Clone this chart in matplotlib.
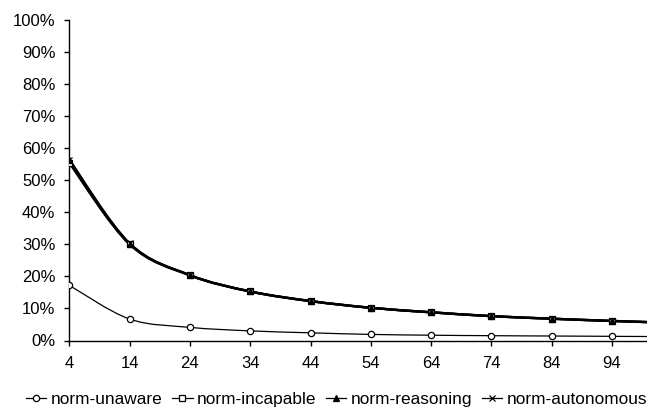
import numpy as np
import matplotlib.pyplot as plt
from matplotlib.path import Path
from matplotlib.patches import PathPatch
from matplotlib.lines import Line2D

plt.rcParams['font.family'] = ['Liberation Sans', 'DejaVu Sans']

# x categories (agents), last point lies past the visible edge
x = [4, 14, 24, 34, 44, 54, 64, 74, 84, 94, 104]

norm_unaware = [17.2, 6.7, 4.1, 3.0, 2.4, 1.9, 1.65, 1.5, 1.4, 1.3, 1.2]
norm_incapable = [55.4, 30.0, 20.3, 15.3, 12.3, 10.2, 8.8, 7.6, 6.8, 6.1, 5.5]
norm_reasoning = [56.2, 30.2, 20.4, 15.3, 12.3, 10.2, 8.8, 7.6, 6.8, 6.1, 5.5]
norm_autonomous = [56.4, 30.3, 20.4, 15.3, 12.3, 10.2, 8.8, 7.6, 6.8, 6.1, 5.5]

labels = ["norm-unaware", "norm-incapable", "norm-reasoning", "norm-autonomous"]
tick_vals = [4, 14, 24, 34, 44, 54, 64, 74, 84, 94]


def smooth_path(xs, ys):
    # excel-style smoothed line drawn as cubic bezier segments
    xs = np.asarray(xs, float)
    ys = np.asarray(ys, float)
    pts = np.column_stack([xs, ys])
    verts = [pts[0]]
    codes = [Path.MOVETO]
    n = len(pts)
    for i in range(n - 1):
        p0 = pts[i - 1] if i > 0 else pts[i]
        p1 = pts[i]
        p2 = pts[i + 1]
        p3 = pts[i + 2] if i + 2 < n else pts[i + 1]
        c1 = p1 + (p2 - p0) / 6.0
        c2 = p2 - (p3 - p1) / 6.0
        verts += [c1, c2, p2]
        codes += [Path.CURVE4] * 3
    return Path(verts, codes)


fig = plt.figure(figsize=(6.47, 4.09), dpi=100)
ax = fig.add_axes([69.3 / 647, (409 - 340.5) / 409, (647 - 69.3) / 647, (340.5 - 20) / 409])

series = [
    (norm_unaware, 'o', 'white', 0.9, 4.5),
    (norm_incapable, 's', 'white', 1.7, 4.5),
    (norm_reasoning, '^', 'black', 1.7, 4.5),
    (norm_autonomous, 'x', 'black', 1.7, 5),
]

handles = []
for (vals, mk, fc, lw, ms), lab in zip(series, labels):
    ax.add_patch(PathPatch(smooth_path(x, vals), facecolor='none', edgecolor='black', lw=lw, zorder=2))
    ax.plot(x[:-1], vals[:-1], linestyle='none', marker=mk, markersize=ms,
            markerfacecolor=fc, markeredgecolor='black', markeredgewidth=0.9, zorder=3)
    handles.append(Line2D([], [], color='black', lw=0.9, marker=mk, markersize=ms,
                          markerfacecolor=fc, markeredgecolor='black', markeredgewidth=0.9))

ax.set_xlim(4, 99.8)
ax.set_ylim(0, 100)
ax.set_xticks(tick_vals)
ax.set_xticklabels([str(v) for v in tick_vals])
ax.set_yticks(range(0, 101, 10))
ax.set_yticklabels([f"{v}%" for v in range(0, 101, 10)])

for s in ['top', 'right']:
    ax.spines[s].set_visible(False)
ax.spines['left'].set_linewidth(1.0)
ax.spines['bottom'].set_linewidth(1.0)
ax.tick_params(axis='both', direction='out', length=3.6, width=1.0, labelsize=12, pad=6.5)
ax.tick_params(axis='x', pad=7.6)

fig.legend(handles, labels, loc='center', bbox_to_anchor=(0.52, (409 - 399.5) / 409), ncol=4,
           frameon=False, fontsize=12.4, handlelength=1.2, handletextpad=0.25,
           columnspacing=0.55, borderaxespad=0, borderpad=0)

fig.savefig('out.png', dpi=100)
